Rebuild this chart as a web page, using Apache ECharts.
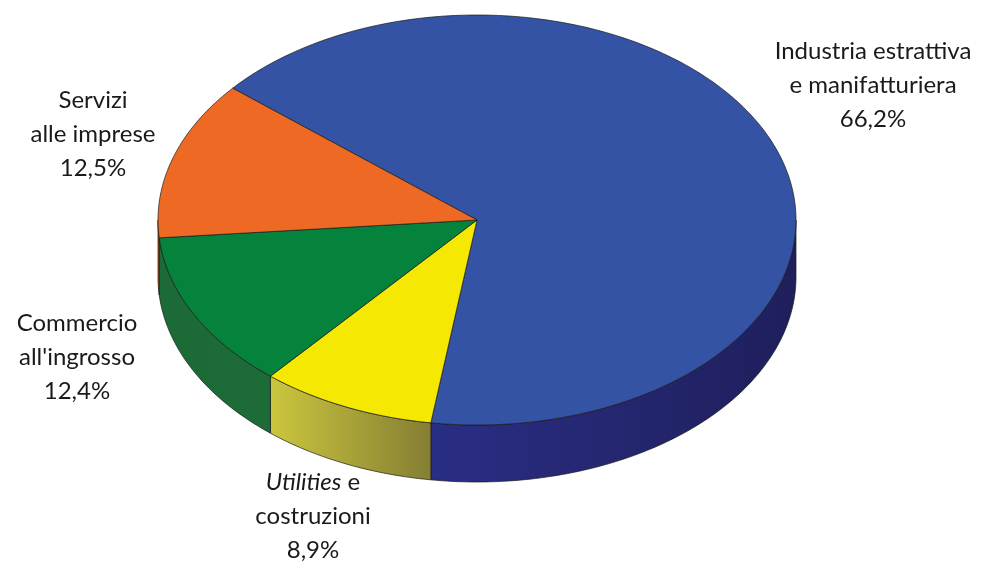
<!DOCTYPE html>
<html>
<head>
<meta charset="utf-8">
<script src="https://cdn.jsdelivr.net/npm/echarts@6/dist/echarts.min.js"></script>
<style>
html,body{margin:0;padding:0;background:#fff;}
#chart{width:987px;height:583px;}
</style>
</head>
<body>
<div id="chart"></div>
<script>
// ---- data ----
const categories = ['Industria estrattiva\ne manifatturiera', 'Utilities e\ncostruzioni', "Commercio\nall'ingrosso", 'Servizi\nalle imprese'];
const values = [66.2, 8.9, 12.4, 12.5];

// ---- styling / layout (not data) ----
const topColors = ['#3553a5', '#f5e904', '#05823c', '#ee6a24'];
const sideColors = [
  ['#2a2e84', '#1f1f5c'],
  ['#cbc63e', '#857e33'],
  ['#1c6b37', '#1d6c37'],
  ['#b8521c', '#a8481a']
];
const labelPos = [[873, 85], [313, 516], [77, 357], [93, 134]];
const geo = { cx: 477, cy: 220, rx: 319, ry: 205, depth: 57, startAngle: 140 };

const total = values.reduce((a, b) => a + b, 0);
const cum = [];
values.reduce((acc, v, i) => { cum[i] = acc; return acc + v; }, 0);

function pt(a, dy) {
  const r = a * Math.PI / 180;
  return [geo.cx + geo.rx * Math.cos(r), geo.cy - geo.ry * Math.sin(r) + (dy || 0)];
}
function arc(a1, a2, dy) { // from a1 to a2 (a1 > a2, clockwise)
  const pts = [];
  const n = Math.max(2, Math.ceil(Math.abs(a1 - a2)));
  for (let k = 0; k <= n; k++) pts.push(pt(a1 + (a2 - a1) * k / n, dy));
  return pts;
}
function fmtPct(v) { return v.toFixed(1).replace('.', ',') + '%'; }

function renderItem(params, api) {
  const i = params.dataIndex;
  const v = api.value(0);
  const a1 = geo.startAngle - cum[i] / total * 360;
  const a2 = a1 - v / total * 360;
  const children = [];
  // visible front wall: angles in (-180, 0) modulo 360
  [0, -360].forEach(function (shift) {
    const lo = Math.max(a2 + shift, -180), hi = Math.min(a1 + shift, 0);
    if (hi - lo > 0.01) {
      const top = arc(hi, lo, 0);
      const bot = arc(lo, hi, geo.depth);
      children.push({
        type: 'polygon', z2: 1,
        shape: { points: top.concat(bot) },
        style: {
          fill: { type: 'linear', x: 0, y: 0, x2: 1, y2: 0, global: false,
            colorStops: [{ offset: 0, color: sideColors[i][0] }, { offset: 1, color: sideColors[i][1] }] },
          stroke: '#1a1a1a', lineWidth: 0.7
        }
      });
    }
  });
  // top face
  children.push({
    type: 'polygon', z2: 2,
    shape: { points: [[geo.cx, geo.cy]].concat(arc(a1, a2, 0)) },
    style: { fill: topColors[i], stroke: '#1a1a1a', lineWidth: 0.7 }
  });
  // label
  let txt = categories[i];
  if (txt.indexOf('Utilities') === 0) txt = '{it|Utilities}' + txt.slice(9);
  children.push({
    type: 'text', z2: 3,
    x: labelPos[i][0], y: labelPos[i][1],
    style: {
      text: txt + '\n' + fmtPct(v),
      fill: '#1a1a1a',
      fontFamily: 'Lato', fontSize: 24,
      lineHeight: 34,
      align: 'center', verticalAlign: 'middle',
      rich: { it: { fontStyle: 'italic', fontFamily: 'Lato', fontSize: 24, lineHeight: 34, fill: '#1a1a1a' } }
    }
  });
  return { type: 'group', children: children };
}

const chart = echarts.init(document.getElementById('chart'), null, { renderer: 'canvas' });
chart.setOption({
  animation: false,
  backgroundColor: '#ffffff',
  series: [{
    type: 'custom',
    coordinateSystem: 'none',
    renderItem: renderItem,
    data: values.map(function (v, i) { return { value: [v], name: categories[i] }; })
  }]
});
</script>
</body>
</html>
